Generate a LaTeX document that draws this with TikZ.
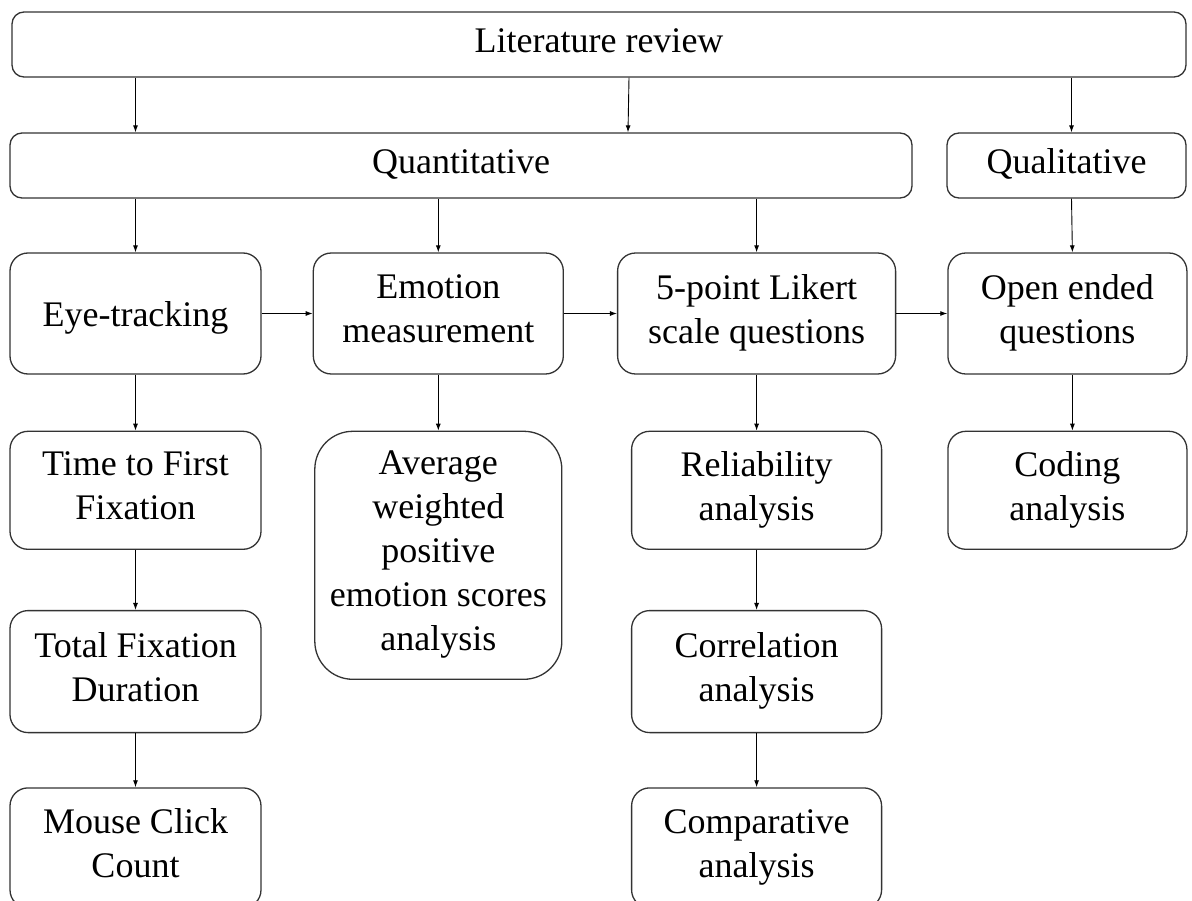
\documentclass[tikz,border=0pt]{standalone}
\usepackage{fontspec}
\setmainfont{Liberation Serif}
\usetikzlibrary{positioning,arrows.meta}
% struts so that every line sits on the same baseline grid
\newcommand{\boxstrut}{\rule[-9pt]{0pt}{44pt}}
\newcommand{\barstrut}{\rule[-13pt]{0pt}{43pt}}
\begin{document}
\begin{tikzpicture}[
    x=1pt, y=-1pt,
    frame/.style={rectangle, draw=black!80, line width=1.3pt, align=center, inner sep=0pt, font=\fontsize{36}{44}\selectfont},
    box/.style={frame, rounded corners=18pt, minimum width=250pt, execute at begin node=\boxstrut, execute at end node=\boxstrut},
    wide/.style={frame, rounded corners=12pt, minimum height=65pt, execute at begin node=\barstrut},
    arrow/.style={-{Latex[length=7pt,width=5pt]}, line width=0.9pt}
  ]
  \useasboundingbox (0,0) rectangle (1192,901);

  % Top layer
  \node[wide, minimum width=1174pt] (lit) at (599,44.5) {Literature review};
  \node[wide, minimum width=902pt] (quant) at (461,165.5) {Quantitative};
  \node[wide, minimum width=239pt] (qual) at (1066.5,165.5) {Qualitative};

  % Methods
  \node[box, minimum width=251pt, minimum height=121pt] (eye) at (135.5,313.5) {Eye-tracking};
  \node[box, minimum height=121pt, right=51pt of eye] (emo) {Emotion\\measurement};
  \node[box, minimum width=278pt, minimum height=121pt, right=53pt of emo] (likert) {5-point Likert\\scale questions};
  \node[box, minimum width=239pt, minimum height=121pt, right=51pt of likert] (open) {Open ended\\questions};

  % Eye-tracking measures
  \node[box, minimum width=251pt, minimum height=118pt, below=56pt of eye] (ttff) {Time to First\\Fixation};
  \node[box, minimum width=251pt, minimum height=122pt, below=60pt of ttff] (tfd) {Total Fixation\\Duration};
  \node[box, minimum width=251pt, minimum height=120pt, below=54pt of tfd] (click) {Mouse Click\\Count};

  % Analyses
  \node[box, minimum width=247pt, minimum height=248pt, rounded corners=38pt, below=56pt of emo] (avg) {Average\\weighted\\positive\\emotion scores\\analysis};
  \node[box, minimum height=118pt, below=56pt of likert] (rel) {Reliability\\analysis};
  \node[box, minimum height=122pt, below=60pt of rel] (corr) {Correlation\\analysis};
  \node[box, minimum height=120pt, below=54pt of corr] (comp) {Comparative\\analysis};
  \node[box, minimum width=239pt, minimum height=118pt, below=56pt of open] (coding) {Coding\\analysis};

  % Arrows
  \draw[arrow] (lit.south -| eye.north) -- (quant.north -| eye.north);
  \draw[arrow] ([xshift=30pt]lit.south) -- ([xshift=167pt]quant.north);
  \draw[arrow] ([xshift=5pt]lit.south -| qual.north) -- ([xshift=5pt]qual.north);
  \draw[arrow] (quant.south -| eye.north) -- (eye.north);
  \draw[arrow] (quant.south -| emo.north) -- (emo.north);
  \draw[arrow] (quant.south -| likert.north) -- (likert.north);
  \draw[arrow] ([xshift=5pt]qual.south) -- ([xshift=5pt]open.north);
  \draw[arrow] (eye) -- (emo);
  \draw[arrow] (emo) -- (likert);
  \draw[arrow] (likert) -- (open);
  \draw[arrow] (eye) -- (ttff);
  \draw[arrow] (ttff) -- (tfd);
  \draw[arrow] (tfd) -- (click);
  \draw[arrow] (emo) -- (avg);
  \draw[arrow] (likert) -- (rel);
  \draw[arrow] (rel) -- (corr);
  \draw[arrow] (corr) -- (comp);
  \draw[arrow] ([xshift=5pt]open.south) -- ([xshift=5pt]coding.north);
\end{tikzpicture}
\end{document}
